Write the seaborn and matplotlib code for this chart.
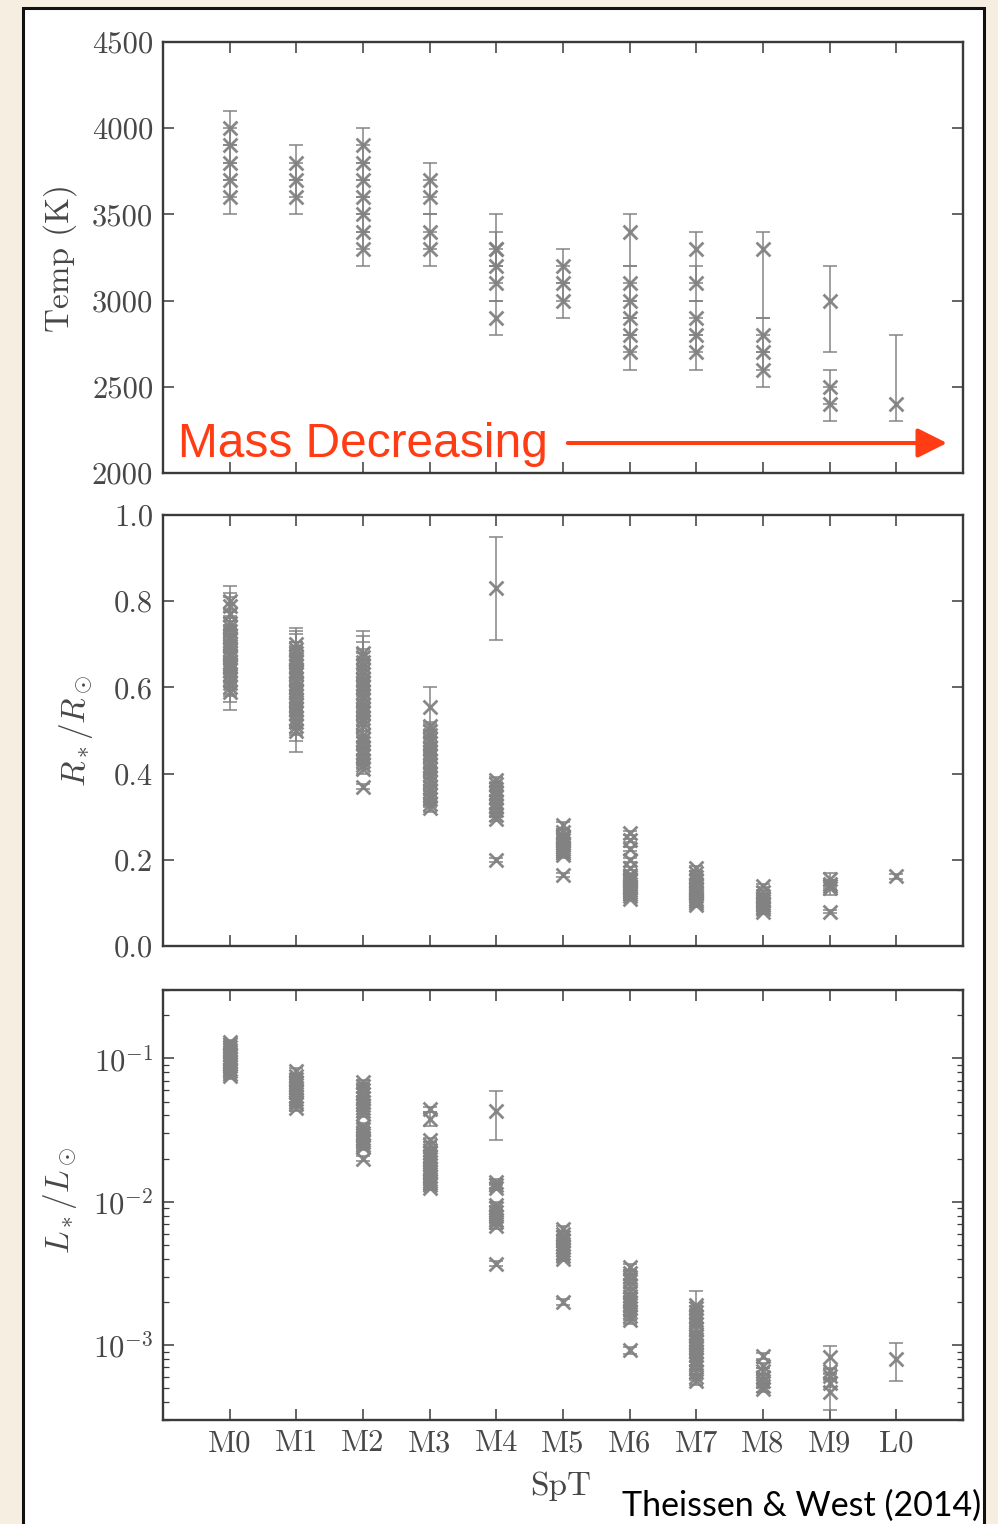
import matplotlib
matplotlib.use("Agg")
import numpy as np
import pandas as pd
import matplotlib.pyplot as plt
from matplotlib.patches import Rectangle, ArrowStyle
from matplotlib.ticker import LogLocator, NullFormatter
import seaborn as sns

spectral_types = ["M0", "M1", "M2", "M3", "M4", "M5", "M6", "M7", "M8", "M9", "L0"]

# Effective temperature (K) per spectral type, with lower / upper uncertainties
temp_values = [
    [4000, 3900, 3800, 3700, 3600],
    [3800, 3700, 3600],
    [3900, 3800, 3700, 3600, 3500, 3400, 3300],
    [3700, 3600, 3400, 3300],
    [3300, 3300, 3200, 3100, 2900],
    [3200, 3100, 3000],
    [3400, 3100, 3000, 2900, 2800, 2700],
    [3300, 3100, 2900, 2800, 2700],
    [3300, 2800, 2700, 2600],
    [3000, 2500, 2400],
    [2400],
]
temp_err_lo = [
    [100, 100, 100, 100, 100],
    [100, 100, 100],
    [100, 100, 100, 100, 100, 100, 100],
    [100, 100, 100, 100],
    [100, 100, 100, 100, 100],
    [100, 100, 100],
    [200, 100, 100, 100, 100, 100],
    [200, 100, 100, 100, 100],
    [400, 100, 100, 100],
    [300, 100, 100],
    [100],
]
temp_err_hi = [
    [100, 100, 100, 100, 100],
    [100, 100, 100],
    [100, 100, 100, 100, 100, 100, 100],
    [100, 100, 100, 100],
    [200, 100, 100, 100, 100],
    [100, 100, 100],
    [100, 100, 100, 100, 100, 100],
    [100, 100, 100, 100, 100],
    [100, 100, 100, 100],
    [200, 100, 100],
    [400],
]

# Stellar radius (R_sun) per spectral type, symmetric uncertainties
radius_values = [
    [0.80, 0.79, 0.77, 0.75, 0.74, 0.73, 0.72, 0.715, 0.71, 0.70, 0.695, 0.69,
     0.68, 0.675, 0.67, 0.66, 0.655, 0.65, 0.64, 0.63, 0.62, 0.61, 0.60, 0.59],
    [0.70, 0.69, 0.68, 0.67, 0.665, 0.66, 0.65, 0.64, 0.635, 0.63, 0.62, 0.61,
     0.60, 0.595, 0.59, 0.58, 0.57, 0.56, 0.55, 0.54, 0.53, 0.52, 0.51, 0.50],
    [0.68, 0.67, 0.66, 0.65, 0.64, 0.63, 0.62, 0.61, 0.60, 0.59, 0.58, 0.57,
     0.56, 0.55, 0.54, 0.53, 0.52, 0.51, 0.49, 0.48, 0.47, 0.46, 0.45, 0.44,
     0.43, 0.42, 0.41, 0.37],
    [0.555, 0.51, 0.50, 0.49, 0.48, 0.47, 0.46, 0.45, 0.44, 0.43, 0.42, 0.41,
     0.40, 0.39, 0.38, 0.37, 0.36, 0.35, 0.34, 0.33, 0.32],
    [0.83, 0.385, 0.375, 0.365, 0.355, 0.345, 0.335, 0.325, 0.315, 0.305, 0.295, 0.20],
    [0.28, 0.265, 0.255, 0.25, 0.245, 0.24, 0.235, 0.23, 0.225, 0.22, 0.215, 0.21, 0.165],
    [0.262, 0.245, 0.225, 0.20, 0.18, 0.165, 0.16, 0.155, 0.15, 0.145, 0.14, 0.135,
     0.13, 0.125, 0.12, 0.115, 0.11],
    [0.18, 0.17, 0.16, 0.15, 0.145, 0.14, 0.135, 0.13, 0.125, 0.12, 0.115, 0.11,
     0.105, 0.10, 0.095],
    [0.14, 0.125, 0.115, 0.11, 0.105, 0.10, 0.095, 0.09, 0.085, 0.078],
    [0.155, 0.145, 0.14, 0.135, 0.08],
    [0.162],
]
radius_errors = [
    [0.035, 0.03, 0.04, 0.03, 0.035, 0.03, 0.035, 0.03, 0.03, 0.035, 0.03, 0.03,
     0.03, 0.035, 0.03, 0.03, 0.03, 0.035, 0.03, 0.03, 0.035, 0.03, 0.035, 0.042],
    [0.038, 0.04, 0.045, 0.035, 0.04, 0.035, 0.04, 0.035, 0.035, 0.04, 0.035, 0.035,
     0.04, 0.035, 0.035, 0.04, 0.035, 0.035, 0.04, 0.035, 0.035, 0.03, 0.035, 0.05],
    [0.05, 0.05, 0.045, 0.04, 0.04, 0.035, 0.03, 0.03, 0.03, 0.03, 0.025, 0.025,
     0.025, 0.02, 0.02, 0.02, 0.02, 0.02, 0.02, 0.02, 0.015, 0.015, 0.015, 0.015,
     0.01, 0.01, 0.01, 0.005],
    [0.045, 0.01, 0.015, 0.01, 0.01, 0.015, 0.01, 0.01, 0.01, 0.015, 0.01, 0.01,
     0.01, 0.01, 0.01, 0.01, 0.01, 0.01, 0.01, 0.008, 0.008],
    [0.12, 0.006, 0.006, 0.006, 0.006, 0.006, 0.006, 0.006, 0.006, 0.006, 0.006, 0.004],
    [0.008, 0.006, 0.006, 0.006, 0.006, 0.006, 0.006, 0.006, 0.006, 0.006, 0.006, 0.006, 0.005],
    [0.004, 0.004, 0.004, 0.004, 0.004, 0.004, 0.004, 0.004, 0.004, 0.004, 0.004, 0.004,
     0.004, 0.004, 0.004, 0.004, 0.004],
    [0.006, 0.004, 0.004, 0.004, 0.004, 0.004, 0.004, 0.004, 0.004, 0.004, 0.004, 0.004,
     0.004, 0.004, 0.004],
    [0.004, 0.004, 0.004, 0.004, 0.004, 0.004, 0.004, 0.004, 0.004, 0.004],
    [0.014, 0.008, 0.008, 0.017, 0.003],
    [0.006],
]

# Luminosity (L_sun) per spectral type, symmetric uncertainties
lum_values = [
    [0.13, 0.125, 0.12, 0.115, 0.11, 0.105, 0.10, 0.096, 0.092, 0.088, 0.085, 0.082, 0.078, 0.075],
    [0.082, 0.075, 0.072, 0.068, 0.065, 0.062, 0.06, 0.058, 0.055, 0.052, 0.05, 0.048, 0.045],
    [0.068, 0.064, 0.06, 0.056, 0.053, 0.05, 0.047, 0.045, 0.043, 0.041, 0.034, 0.032,
     0.030, 0.029, 0.028, 0.027, 0.026, 0.025, 0.024, 0.020],
    [0.044, 0.038, 0.027, 0.025, 0.023, 0.022, 0.021, 0.02, 0.019, 0.018, 0.017, 0.016,
     0.015, 0.0145, 0.014, 0.0135, 0.013, 0.0125],
    [0.043, 0.0138, 0.013, 0.0125, 0.0095, 0.009, 0.0085, 0.008, 0.0075, 0.0072, 0.0068, 0.0037],
    [0.0065, 0.006, 0.0057, 0.0054, 0.0051, 0.0048, 0.0046, 0.0044, 0.0042, 0.004, 0.002],
    [0.0035, 0.0032, 0.003, 0.0028, 0.0026, 0.0024, 0.0022, 0.0021, 0.002, 0.0019, 0.0018,
     0.0017, 0.0016, 0.0015, 0.00092],
    [0.0019, 0.0018, 0.0017, 0.0016, 0.0015, 0.0014, 0.0013, 0.0012, 0.00115, 0.0011, 0.00105,
     0.001, 0.00095, 0.0009, 0.00085, 0.0008, 0.00075, 0.0007, 0.00065, 0.0006, 0.00056],
    [0.00084, 0.00072, 0.00066, 0.0006, 0.00056, 0.00052, 0.00049],
    [0.00083, 0.00066, 0.00061, 0.00054, 0.00047],
    [0.0008],
]
lum_errors = [
    [0.005, 0.005, 0.005, 0.004, 0.004, 0.004, 0.004, 0.004, 0.004, 0.003, 0.003, 0.003, 0.003, 0.003],
    [0.004, 0.003, 0.003, 0.003, 0.003, 0.003, 0.002, 0.002, 0.002, 0.002, 0.002, 0.002, 0.002],
    [0.003, 0.003, 0.003, 0.002, 0.002, 0.002, 0.002, 0.002, 0.002, 0.002, 0.0015, 0.0015,
     0.0012, 0.0012, 0.0012, 0.0012, 0.001, 0.001, 0.001, 0.0008],
    [0.002, 0.004, 0.001, 0.001, 0.001, 0.001, 0.001, 0.001, 0.0008, 0.0008, 0.0007, 0.0007,
     0.0006, 0.0006, 0.0006, 0.0005, 0.0005, 0.0005],
    [0.016, 0.0006, 0.0005, 0.0005, 0.0004, 0.0004, 0.0003, 0.0003, 0.0003, 0.0003, 0.0003, 0.00015],
    [0.0003, 0.0002, 0.0002, 0.0002, 0.0002, 0.0002, 0.0002, 0.0002, 0.0002, 0.00015, 0.0001],
    [0.00015, 0.00013, 0.00012, 0.00011, 0.0001, 0.0001, 0.0001, 0.0001, 0.0001, 0.0001, 0.0001,
     0.0001, 0.0001, 0.0001, 0.00005],
    [0.0005, 0.00008, 0.00008, 0.00007, 0.00007, 0.00006, 0.00006, 0.00005, 0.00005, 0.00005,
     0.00005, 0.00004, 0.00004, 0.00004, 0.00004, 0.00004, 0.00003, 0.00003, 0.00003, 0.00003,
     0.00003],
    [0.00004, 0.00003, 0.00003, 0.00003, 0.00003, 0.00002, 0.00002],
    [0.00015, 0.00003, 0.00003, 0.00003, 0.00012],
    [0.00024],
]

temp_ticks = [2000, 2500, 3000, 3500, 4000, 4500]
radius_ticks = [0.0, 0.2, 0.4, 0.6, 0.8, 1.0]
lum_ticks = [1e-3, 1e-2, 1e-1]
lum_tick_labels = [r"$10^{-3}$", r"$10^{-2}$", r"$10^{-1}$"]


def long_table(values, err_lo, err_hi):
    rows = []
    for i, spt in enumerate(spectral_types):
        for v, lo, hi in zip(values[i], err_lo[i], err_hi[i]):
            rows.append({"spt": spt, "pos": i, "value": v, "lo": lo, "hi": hi})
    return pd.DataFrame(rows)


temp_df = long_table(temp_values, temp_err_lo, temp_err_hi)
radius_df = long_table(radius_values, radius_errors, radius_errors)
lum_df = long_table(lum_values, lum_errors, lum_errors)

sns.set_theme(style="ticks")
plt.rcParams.update({
    "font.family": ["cmr10"],
    "mathtext.fontset": "cm",
    "axes.unicode_minus": False,
    "axes.formatter.use_mathtext": True,
    "xtick.direction": "in",
    "ytick.direction": "in",
    "xtick.top": True,
    "ytick.right": True,
})

W, H = 998, 1524
fig = plt.figure(figsize=(W / 100, H / 100), dpi=100, facecolor="#F6EFE1")

# white card with a dark border behind the panels
fig.patches.append(Rectangle((23 / W, -0.05), (984 - 23) / W, 1.05 - 8 / H,
                             transform=fig.transFigure, facecolor="white",
                             edgecolor="#111111", linewidth=2.2, zorder=-10))

left = 163 / W
width = 800 / W
ax_temp = fig.add_axes([left, 1 - 473 / H, width, 431 / H])
ax_rad = fig.add_axes([left, 1 - 946 / H, width, 431 / H])
ax_lum = fig.add_axes([left, 1 - 1420 / H, width, 430 / H])

mark_color = "#828282"
spine_color = "#3a3a3a"
text_color = "#474747"


def draw_panel(ax, df):
    ax.errorbar(df["pos"], df["value"], yerr=[df["lo"], df["hi"]], fmt="none",
                ecolor=mark_color, elinewidth=1.2, capsize=5, capthick=1.2,
                alpha=0.9, zorder=2)
    sns.scatterplot(data=df, x="pos", y="value", ax=ax, marker="x", s=100,
                    color=mark_color, linewidth=2.0, alpha=0.95, zorder=3,
                    legend=False)
    ax.set_xlim(-1, 11)
    ax.set_xticks(range(len(spectral_types)))
    ax.set_xlabel("")
    ax.set_ylabel("")
    for s in ax.spines.values():
        s.set_color(spine_color)
        s.set_linewidth(1.7)
    ax.tick_params(which="major", length=8, width=1.1, color=spine_color,
                   labelsize=22, labelcolor=text_color)
    ax.tick_params(axis="y", which="major", pad=7)
    ax.tick_params(axis="x", which="major", pad=7)
    ax.set_facecolor("white")


draw_panel(ax_temp, temp_df)
ax_temp.set_ylim(2000, 4500)
ax_temp.set_yticks(temp_ticks)
ax_temp.set_yticklabels([str(t) for t in temp_ticks])
ax_temp.tick_params(axis="x", labelbottom=False)
ax_temp.set_ylabel("Temp (K)", fontsize=24, color=text_color)
ax_temp.yaxis.set_label_coords(-0.107, 0.5)

draw_panel(ax_rad, radius_df)
ax_rad.set_ylim(0, 1)
ax_rad.set_yticks(radius_ticks)
ax_rad.set_yticklabels([f"{t:.1f}" for t in radius_ticks])
ax_rad.tick_params(axis="x", labelbottom=False)
ax_rad.set_ylabel(r"$R_*/R_\odot$", fontsize=24, color=text_color)
ax_rad.yaxis.set_label_coords(-0.085, 0.5)

draw_panel(ax_lum, lum_df)
ax_lum.set_yscale("log")
ax_lum.set_ylim(3e-4, 0.3)
ax_lum.set_yticks(lum_ticks)
ax_lum.set_yticklabels(lum_tick_labels)
ax_lum.yaxis.set_minor_locator(LogLocator(base=10, subs=np.arange(2, 10)))
ax_lum.yaxis.set_minor_formatter(NullFormatter())
ax_lum.tick_params(axis="y", which="minor", length=4.5, width=0.9, color=spine_color)
ax_lum.set_xticklabels(spectral_types)
ax_lum.set_ylabel(r"$L_*/L_\odot$", fontsize=24, color=text_color)
ax_lum.yaxis.set_label_coords(-0.105, 0.51)
ax_lum.set_xlabel("SpT", fontsize=24, color=text_color)
ax_lum.xaxis.set_label_coords(0.4975, -0.12)

# direction of decreasing stellar mass
accent = "#FF3C14"
ax_temp.text(0.019, 0.037, "Mass Decreasing", transform=ax_temp.transAxes,
             fontsize=34.5, color=accent, family=["Liberation Sans"],
             ha="left", va="baseline", zorder=5)
ax_temp.annotate("", xy=(0.98, 0.0696), xytext=(0.506, 0.0696),
                 xycoords="axes fraction", textcoords="axes fraction",
                 arrowprops=dict(arrowstyle=ArrowStyle("-|>", head_length=1.0, head_width=0.5),
                                 color=accent, lw=2.9, mutation_scale=18,
                                 shrinkA=0, shrinkB=0))

fig.text(622 / W, 1 - 1506 / H, "Theissen & West (2014)", fontsize=24.5,
         family=["Lato"], color="black", ha="left", va="center")

fig.savefig("out.png", dpi=100, facecolor=fig.get_facecolor())
